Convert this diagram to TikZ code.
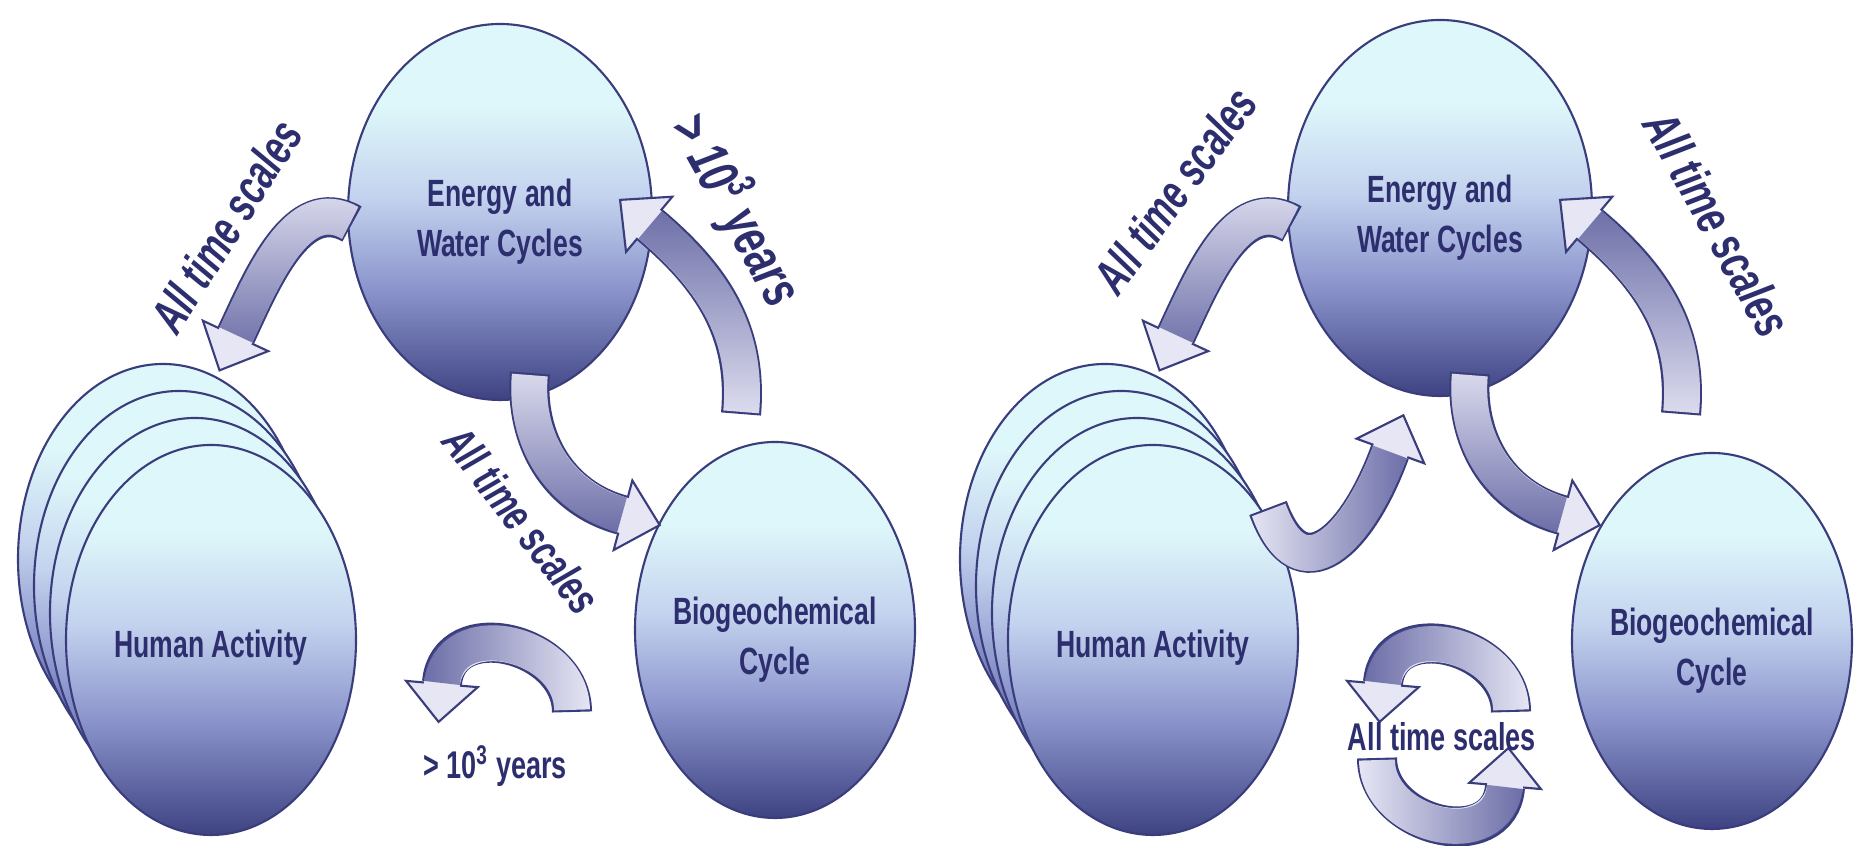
\documentclass[tikz,border=0pt]{standalone}
\usepackage{fontspec}
\newfontfamily\lblfont[FakeStretch=0.7]{Liberation Sans}
\usetikzlibrary{shapes.geometric,fadings}

\definecolor{navy}{RGB}{45,46,110}
\definecolor{rimline}{RGB}{58,61,124}
\definecolor{ribfill}{RGB}{230,230,245}
\definecolor{ribdark}{RGB}{78,80,148}
\definecolor{ballD}{RGB}{62,66,130}
\definecolor{ballM}{RGB}{140,150,205}
\definecolor{ballP}{RGB}{195,210,238}
\definecolor{ballL}{RGB}{222,247,250}

\pgfdeclareverticalshading{ballshade}{100bp}{color(0bp)=(ballD); color(25bp)=(ballD); color(40bp)=(ballM); color(52bp)=(ballP); color(64bp)=(ballL); color(100bp)=(ballL)}

% fadings for the dark twist of the ribbons
\tikzfading[name=rib left, left color=transparent!0, middle color=transparent!100, right color=transparent!100]
\tikzfading[name=rib right, left color=transparent!100, middle color=transparent!100, right color=transparent!0]
\tikzfading[name=rib top, top color=transparent!0, middle color=transparent!100, bottom color=transparent!100]
\tikzfading[name=rib bottom, top color=transparent!100, middle color=transparent!100, bottom color=transparent!0]

\tikzset{
  ball/.style={ellipse, draw=rimline, line width=0.6pt, shade, shading=ballshade, inner sep=0pt},
  ball text/.style={text=navy, align=center, inner sep=0pt, font=\lblfont\bfseries\fontsize{10.8}{14.2}\selectfont},
  tag/.style={text=navy, inner sep=0pt, font=\lblfont\bfseries\itshape\fontsize{14}{16}\selectfont},
  flat tag/.style={text=navy, inner sep=0pt, font=\lblfont\bfseries\fontsize{11}{13}\selectfont},
  rib tip/.style={isosceles triangle, isosceles triangle stretches, shape border rotate=0,
    minimum width=7.2mm, minimum height=3.8mm, inner sep=0pt, anchor=lower side,
    pos=1, sloped, allow upside down, fill=ribfill, draw=rimline, line width=0.6pt},
  rib edge/.style={draw=rimline, line width=11.4pt},
  rib body/.style={draw=ribfill, line width=10.2pt, shorten <=0.6pt, shorten >=-1pt},
  rib shade/.style={draw=ribdark, draw opacity=0.8, line width=10.2pt, shorten <=0.6pt, path fading=#1}
}

% ribbon arrow: start, to-options, end, fading of the twist
\newcommand{\ribbon}[4]{%
  \draw[rib edge] (#1) to[#2] (#3);
  \path (#1) to[#2] node[rib tip] {} (#3);
  \draw[rib body] (#1) to[#2] (#3);
  \draw[rib shade=#4] (#1) to[#2] (#3);
}

\begin{document}
\begin{tikzpicture}[x=0.1mm, y=0.1mm]
\useasboundingbox (0,0) rectangle (1862,846);
\fill[white] (0,0) rectangle (1862,846);

% left panel
\node[ball, minimum width=29mm, minimum height=39mm] (humanL3) at (163,287) {};
\node[ball, minimum width=29mm, minimum height=39mm] (humanL2) at (179,260) {};
\node[ball, minimum width=29mm, minimum height=39mm] (humanL1) at (195,233) {};
\node[ball, minimum width=29mm, minimum height=39mm] (humanL) at (211,206) {};
\node[ball, minimum width=30.4mm, minimum height=37.6mm] (energyL) at (500,634) {};
\node[ball, minimum width=28mm, minimum height=37.6mm] (bioL) at (775,216) {};
\node[ball text] (humanLtxt) at (211,198) {Human Activity};
\node[ball text] (energyLtxt) at (500,624) {Energy and\\Water Cycles};
\node[ball text] (bioLtxt) at (775,206) {Biogeochemical\\Cycle};

\coordinate (a1s) at (352,622);
\coordinate (a1e) at (236,511);
\coordinate (a2s) at (741,432);
\coordinate (a2e) at (650,621);
\coordinate (a3s) at (530,473);
\coordinate (a3e) at (622,331);
\coordinate (a4s) at (572,134);
\coordinate (a4e) at (442,163);
\ribbon{a1s}{out=150,in=65}{a1e}{rib bottom}
\ribbon{a2s}{out=85,in=-40}{a2e}{rib top}
\ribbon{a3s}{out=-95,in=165}{a3e}{rib bottom}
\ribbon{a4s}{out=90,in=85,looseness=1.35}{a4e}{rib left}

\node[tag, rotate=58] (tagL1) at (226,620) {All time scales};
\node[tag, rotate=-61, font=\lblfont\bfseries\itshape\fontsize{16}{18}\selectfont] (tagL2) at (737,636) {> 10\textsuperscript{3} years};
\node[tag, rotate=-52, font=\lblfont\bfseries\itshape\fontsize{13}{15}\selectfont] (tagL3) at (522,326) {All time scales};
\node[flat tag] (tagL4) at (495,80) {> 10\textsuperscript{3} years};

% right panel
\node[ball, minimum width=29mm, minimum height=39mm] (humanR3) at (1105,287) {};
\node[ball, minimum width=29mm, minimum height=39mm] (humanR2) at (1121,260) {};
\node[ball, minimum width=29mm, minimum height=39mm] (humanR1) at (1137,233) {};
\node[ball, minimum width=29mm, minimum height=39mm] (humanR) at (1153,206) {};
\node[ball, minimum width=30.4mm, minimum height=37.6mm] (energyR) at (1440,638) {};
\node[ball, minimum width=28mm, minimum height=37.6mm] (bioR) at (1712,205) {};
\node[ball text] (humanRtxt) at (1153,198) {Human Activity};
\node[ball text] (energyRtxt) at (1440,628) {Energy and\\Water Cycles};
\node[ball text] (bioRtxt) at (1712,195) {Biogeochemical\\Cycle};

\coordinate (b1s) at (1292,622);
\coordinate (b1e) at (1176,511);
\coordinate (b2s) at (1268,338);
\coordinate (b2e) at (1390,394);
\coordinate (b3s) at (1681,432);
\coordinate (b3e) at (1590,621);
\coordinate (b4s) at (1470,473);
\coordinate (b4e) at (1562,331);
\coordinate (c1s) at (1511,134);
\coordinate (c1e) at (1383,163);
\coordinate (c2s) at (1377,88);
\coordinate (c2e) at (1505,59);
\ribbon{b1s}{out=150,in=65}{b1e}{rib bottom}
\ribbon{b2s}{out=-70,in=250,looseness=1.8}{b2e}{rib right}
\ribbon{b3s}{out=85,in=-40}{b3e}{rib top}
\ribbon{b4s}{out=-95,in=165}{b4e}{rib bottom}
\ribbon{c1s}{out=90,in=85,looseness=1.35}{c1e}{rib left}
\ribbon{c2s}{out=-90,in=-95,looseness=1.35}{c2e}{rib right}

\node[tag, rotate=54] (tagR1) at (1175,656) {All time scales};
\node[tag, rotate=-61, font=\lblfont\bfseries\itshape\fontsize{14.5}{16}\selectfont] (tagR2) at (1718,622) {All time scales};
\node[flat tag] (tagR3) at (1442,109) {All time scales};
\end{tikzpicture}
\end{document}
